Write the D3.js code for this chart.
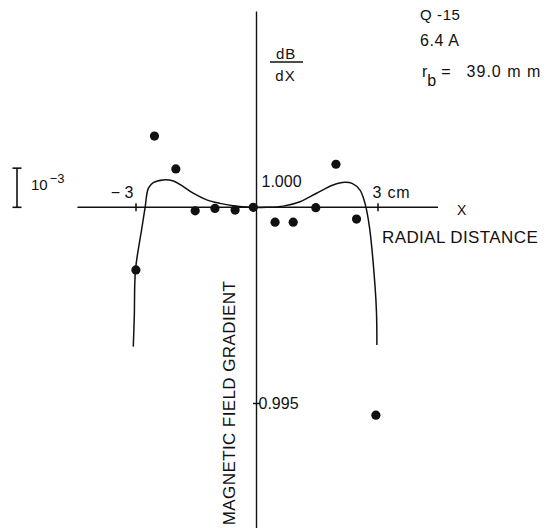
<!DOCTYPE html>
<html>
<head>
<meta charset="utf-8">
<script src="https://cdn.jsdelivr.net/npm/d3@7"></script>
<style>
  html, body { margin: 0; padding: 0; background: #fff; }
  svg text { font-family: "Liberation Sans", Arial, sans-serif; fill: #111; }
</style>
</head>
<body>
<svg id="chart" width="548" height="528"></svg>
<script>
// Measured gradient across the quadrupole aperture (x in cm, dB/dX normalised)
const radialCm = [-2.99, -2.53, -2.0, -1.52, -1.03, -0.53, -0.08, 0.46, 0.91, 1.47, 1.97, 2.48, 2.96];
const gradient = [0.99840, 1.00182, 1.00098, 0.99991, 0.99997, 0.99993, 1.00000, 0.99962, 0.99962, 0.99999, 1.00110, 0.99970, 0.99469];

// Calculated gradient profile
const fitCm = [-3.055, -3.03, -3.00, -2.85, -2.765, -2.68, -2.56, -2.31, -2.06, -1.815, -1.57, -1.235, -0.905, -0.575, -0.16,
               0.25, 0.665, 1.08, 1.49, 1.90, 2.19, 2.37, 2.566, 2.69, 2.80, 2.94, 2.976, 2.985];
const fitGradient = [0.99644, 0.99720, 0.99840, 0.99942, 0.99997, 1.00049, 1.00063, 1.00070, 1.00067, 1.00053, 1.00036, 1.00019, 1.00010, 1.00004, 1.00000,
                     1.00000, 1.00003, 1.00014, 1.00036, 1.00057, 1.00064, 1.00061, 1.00044, 1.00010, 0.99950, 0.99797, 0.99728, 0.99648];

const xTicks = [-3, 3];
const xTickLabels = ["\u2212 3", "3 cm"];
const yTicks = [0.995];
const yLabels = [1.000, 0.995];
const xExtent = [-4.44, 4.5];
const yExtent = [0.9918, 1.005];
const scaleBarStep = 0.001;

const svg = d3.select("#chart");
const x = d3.scaleLinear().domain([-3, 3]).range([135.5, 377.5]);
const y = d3.scaleLinear().domain([0.995, 1.000]).range([403, 207.3]);

const ink = "#111";

// Axes lines
svg.append("line")
  .attr("x1", x(xExtent[0])).attr("x2", x(xExtent[1]))
  .attr("y1", y(1)).attr("y2", y(1))
  .attr("stroke", ink).attr("stroke-width", 1.6);
svg.append("line")
  .attr("x1", x(0)).attr("x2", x(0))
  .attr("y1", y(yExtent[1])).attr("y2", y(yExtent[0]))
  .attr("stroke", ink).attr("stroke-width", 1.4);

// Crossing tick marks from d3 axes
const xAxis = d3.axisBottom(x).tickValues(xTicks).tickFormat("").tickSize(8).tickSizeOuter(0);
const gx = svg.append("g").attr("transform", `translate(0,${y(1) - 4})`).call(xAxis);
gx.select(".domain").remove();
gx.selectAll(".tick line").attr("stroke", ink).attr("stroke-width", 1.5);

const yAxis = d3.axisLeft(y).tickValues(yTicks).tickFormat("").tickSize(7).tickSizeOuter(0);
const gy = svg.append("g").attr("transform", `translate(${x(0) + 3.5},0)`).call(yAxis);
gy.select(".domain").remove();
gy.selectAll(".tick line").attr("stroke", ink).attr("stroke-width", 1.5);

// Tick labels
svg.append("text").attr("x", x(xTicks[0]) - 2).attr("y", 198)
  .attr("text-anchor", "end").attr("font-size", 16).text(xTickLabels[0]);
svg.append("text").attr("x", x(xTicks[1]) - 5).attr("y", 198)
  .attr("font-size", 16).attr("letter-spacing", 0.8).text(xTickLabels[1]);
svg.append("text").attr("x", x(0) + 5).attr("y", y(yLabels[0]) - 20.5)
  .attr("font-size", 16).text(d3.format(".3f")(yLabels[0]));
svg.append("text").attr("x", x(0) + 2).attr("y", y(yLabels[1]) + 5.5)
  .attr("font-size", 16).text(d3.format(".3f")(yLabels[1]));

// Axis titles
svg.append("text").attr("x", 457).attr("y", 215).attr("font-size", 14).text("X");
svg.append("text").attr("x", 382).attr("y", 243).attr("font-size", 17).attr("letter-spacing", 0.4).text("RADIAL DISTANCE");
svg.append("text")
  .attr("transform", `translate(${x(0) - 22},403) rotate(-90)`)
  .attr("text-anchor", "middle").attr("font-size", 17).attr("letter-spacing", 0.4)
  .text("MAGNETIC FIELD GRADIENT");

// dB/dX fraction
svg.append("text").attr("x", 286).attr("y", 58.5).attr("text-anchor", "middle").attr("font-size", 15).attr("letter-spacing", 0.8).text("dB");
svg.append("line").attr("x1", 270).attr("x2", 303).attr("y1", 62).attr("y2", 62).attr("stroke", ink).attr("stroke-width", 1.3);
svg.append("text").attr("x", 285.5).attr("y", 80.5).attr("text-anchor", "middle").attr("font-size", 15).attr("letter-spacing", 1).text("dX");

// Magnet parameters
svg.append("text").attr("x", 420).attr("y", 20).attr("font-size", 15).attr("letter-spacing", 0.6).text("Q -15");
svg.append("text").attr("x", 420).attr("y", 46).attr("font-size", 16).attr("letter-spacing", 0.6).text("6.4 A");
const rb = svg.append("text").attr("x", 422).attr("y", 77).attr("font-size", 16);
rb.append("tspan").text("r");
rb.append("tspan").attr("dy", 9).text("b");
rb.append("tspan").attr("dy", -9).attr("dx", 5).text("=");
rb.append("tspan").attr("dx", 16).attr("letter-spacing", 1).text("39.0 m m");

// 10^-3 scale bar
const barX = 17;
svg.append("line").attr("x1", barX).attr("x2", barX)
  .attr("y1", y(1 + scaleBarStep)).attr("y2", y(1)).attr("stroke", ink).attr("stroke-width", 1.6);
[y(1 + scaleBarStep), y(1)].forEach(v => {
  svg.append("line").attr("x1", barX - 4.5).attr("x2", barX + 4.5).attr("y1", v).attr("y2", v)
    .attr("stroke", ink).attr("stroke-width", 1.6);
});
const pw = svg.append("text").attr("x", 31).attr("y", 190).attr("font-size", 15);
pw.append("tspan").text("10");
pw.append("tspan").attr("dy", -7).attr("dx", 2).attr("font-size", 13).text("\u22123");

// Calculated curve
const line = d3.line().x((d, i) => x(fitCm[i])).y((d, i) => y(fitGradient[i])).curve(d3.curveCatmullRom.alpha(0.5));
svg.append("path").datum(fitCm).attr("d", line)
  .attr("fill", "none").attr("stroke", ink).attr("stroke-width", 1.5);

// Measured points
svg.selectAll("circle.pt").data(radialCm).join("circle")
  .attr("class", "pt")
  .attr("cx", d => x(d))
  .attr("cy", (d, i) => y(gradient[i]))
  .attr("r", 4.6)
  .attr("fill", ink);
</script>
</body>
</html>
